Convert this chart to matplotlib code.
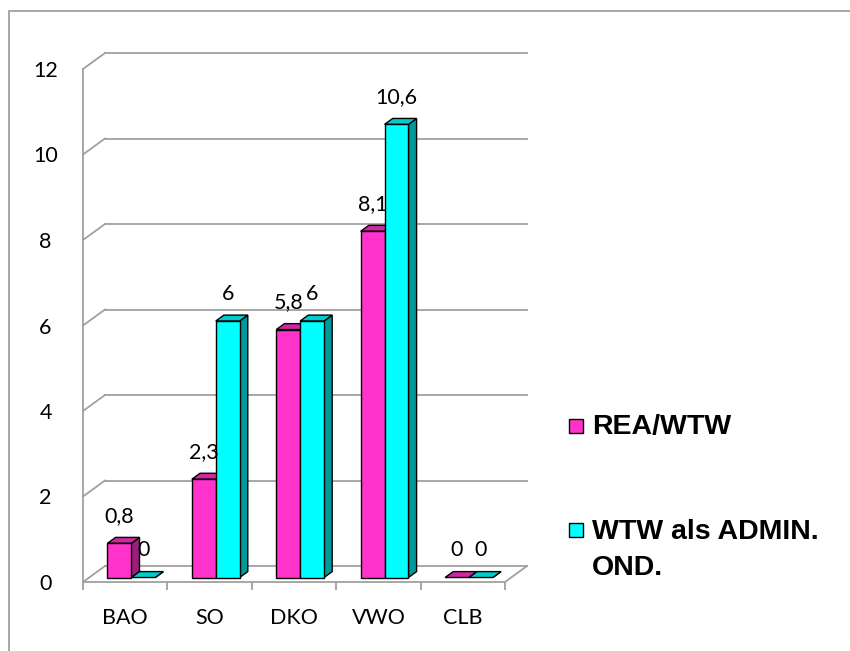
import matplotlib
matplotlib.use("Agg")
import matplotlib.pyplot as plt
from matplotlib.patches import Polygon, Rectangle
import numpy as np

# data
categories = ['BAO', 'SO', 'DKO', 'VWO', 'CLB']
rea_wtw = [0.8, 2.3, 5.8, 8.1, 0]
wtw_admin = [0, 6, 6, 10.6, 0]
series_names = ['REA/WTW', 'WTW als ADMIN.\nOND.']
yticks = [0, 2, 4, 6, 8, 10, 12]

front_cols = ['#FF33CC', '#00FFFF']
top_cols = ['#CC29A3', '#00CCCC']
side_cols = ['#99207A', '#009999']
grid_col = '#A0A0A0'
lab_size = 15.5

W, H = 850, 651
fig = plt.figure(figsize=(W / 100, H / 100), dpi=100)

# front plane of the 3d box
ax_l, ax_r, ax_b, ax_t = 83, 505, 582, 69
ax = fig.add_axes([ax_l / W, 1 - ax_b / H, (ax_r - ax_l) / W, (ax_b - ax_t) / H])
ax.set_xlim(0, 5)
ax.set_ylim(0, 12)
ax.patch.set_alpha(0)

# depth of the box in data units
px_x = (ax_r - ax_l) / 5.0
px_y = (ax_b - ax_t) / 12.0
dx = 22 / px_x
dy = 16 / px_y

# back wall gridlines + side diagonals
for v in yticks:
    ax.plot([dx, 5 + dx], [v + dy, v + dy], color=grid_col, lw=1.3, clip_on=False, zorder=1)
    ax.plot([0, dx], [v, v + dy], color=grid_col, lw=1.3, clip_on=False, zorder=1)
ax.plot([5, 5 + dx], [0, dy], color=grid_col, lw=1.3, clip_on=False, zorder=1)

for s in ['top', 'right']:
    ax.spines[s].set_visible(False)
for s in ['left', 'bottom']:
    ax.spines[s].set_color(grid_col)
    ax.spines[s].set_linewidth(1.3)

ax.set_yticks(yticks)
ax.set_yticklabels([str(v) for v in yticks])
ax.tick_params(axis='y', length=0, pad=27, labelsize=lab_size)
for t in ax.get_yticklabels():
    t.set_horizontalalignment('center')
    t.set_family('Lato')

x = np.arange(len(categories))
ax.set_xticks(x + 0.5)
ax.set_xticklabels(categories, family='Lato', fontsize=lab_size)
ax.set_xticks(np.arange(len(categories) + 1), minor=True)
ax.tick_params(axis='x', which='major', length=0, pad=19)
ax.tick_params(axis='x', which='minor', length=6, width=1.3, color=grid_col, direction='out')

# bars
w = 0.283
f = 0.28   # depth position of bar front
g = 0.37   # bar depth fraction
z = 3
for i in range(len(categories)):
    left = i + 0.5 - w + f * dx
    for k, vals in enumerate([rea_wtw, wtw_admin]):
        v = vals[i]
        x0 = left + k * w
        x1 = x0 + w
        b = f * dy
        side = Polygon([(x1, b), (x1, b + v), (x1 + g * dx, b + v + g * dy), (x1 + g * dx, b + g * dy)],
                       closed=True, fc=side_cols[k], ec='black', lw=1, clip_on=False, zorder=z)
        top = Polygon([(x0, b + v), (x1, b + v), (x1 + g * dx, b + v + g * dy), (x0 + g * dx, b + v + g * dy)],
                      closed=True, fc=top_cols[k], ec='black', lw=1, clip_on=False, zorder=z)
        ax.add_patch(side)
        ax.add_patch(top)
        if v > 0:
            ax.bar(x0, v, width=w, bottom=b, align='edge', color=front_cols[k],
                   edgecolor='black', linewidth=1, zorder=z + 0.5, clip_on=False)
        ax.annotate(f"{v:g}".replace('.', ','), (x0 + w / 2, b + v), xytext=(0, 19.5),
                    textcoords='offset points', ha='center', va='center',
                    family='Lato', fontsize=lab_size, zorder=10, annotation_clip=False)
        z += 1

# legend
leg_x = 569
for k, (name, ybox, ytxt) in enumerate(zip(series_names, [426, 530], [427, 550])):
    fig.patches.append(Rectangle((leg_x / W, 1 - (ybox + 7) / H), 14 / W, 14 / H,
                                 transform=fig.transFigure, fc=front_cols[k], ec='black', lw=1))
    fig.text(592 / W, 1 - ytxt / H, name, ha='left', va='center',
             family='Liberation Sans', weight='bold', fontsize=20.5, linespacing=1.5,
             transform=fig.transFigure)

# outer frame (cut off at right and bottom)
fig.patches.append(Rectangle((9 / W, -0.1), 1.2, 1.1 - 11 / H, transform=fig.transFigure,
                             fill=False, ec=grid_col, lw=1.3))

fig.savefig('out.png', dpi=100)
